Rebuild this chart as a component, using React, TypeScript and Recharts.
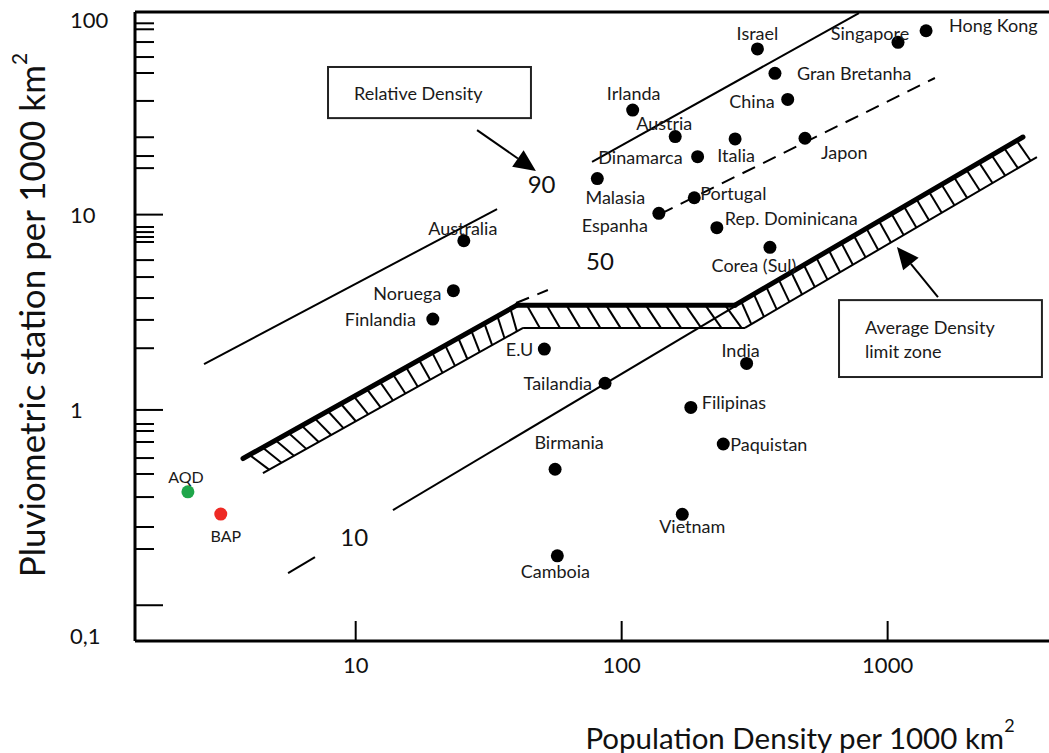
import React from "react";
import {
  ScatterChart,
  Scatter,
  XAxis,
  YAxis,
  ReferenceLine,
  ReferenceArea,
  ReferenceDot,
} from "recharts";

const FONT = "Lato, 'Open Sans', Arial, sans-serif";
const W = 1049;
const H = 753;
const PLOT_LEFT = 135;
const PLOT_BOTTOM = 641;

const X_DOMAIN = [1.48, 4043];
const Y_DOMAIN = [0.0656, 109];

// axis ticks
const xTicks = [10, 100, 1000];
const yMajorTicks = [100, 10, 1, 0.1];
const yMajorLabels = ["100", "10", "1", "0,1"];
const yMinorTicks = [
  95.4, 88.9, 76.5, 64.1, 53.1, 38.2, 24.9, 19.95, 17.3, 8.64, 8.14, 7.68, 7.24,
  5.85, 4.79, 3.74, 2.89, 2.07, 0.847, 0.78, 0.685, 0.567, 0.47, 0.358, 0.2515,
  0.194,
];

// countries: population density vs pluviometric stations (per 1000 km2)
const countries = [
  "Israel", "Singapore", "Hong Kong", "Gran Bretanha", "China", "Irlanda",
  "Austria", "Italia", "Japon", "Dinamarca", "Malasia", "Portugal", "Espanha",
  "Rep. Dominicana", "Corea (Sul)", "Australia", "Noruega", "Finlandia", "E.U",
  "India", "Tailandia", "Filipinas", "Paquistan", "Birmania", "Vietnam", "Camboia",
];
const popDensity = [
  324, 1094, 1395, 377, 421, 110, 159, 267, 489, 193, 81, 187.5, 138, 228, 361,
  25.5, 23.3, 19.5, 51.2, 295, 86.6, 182, 241, 56.2, 169, 57.3,
];
const stations = [
  70.5, 76.2, 87.4, 52.9, 38.9, 34.3, 25.1, 24.4, 24.6, 19.8, 15.3, 12.2, 10.15,
  8.57, 6.8, 7.35, 4.08, 2.92, 2.05, 1.73, 1.37, 1.03, 0.669, 0.497, 0.292, 0.179,
];

// study basins
const aqdPoint = { name: "AQD", x: 2.34, y: 0.381 };
const bapPoint = { name: "BAP", x: 3.11, y: 0.293 };

// average density limit zone (upper thick edge / lower thin edge)
const bandTopX = [3.77, 40.4, 266.7, 3227];
const bandTopY = [0.564, 3.44, 3.44, 24.96];
const bandLowX = [4.48, 42.6, 290.8, 3642];
const bandLowY = [0.475, 2.63, 2.63, 19.72];

// relative density lines
const solidLines = [
  [2.69, 1.718, 34.0, 10.68],
  [77.4, 18.6, 780, 107.7],
  [13.81, 0.3072, 271.4, 3.444],
  [5.57, 0.1462, 7.03, 0.1765],
];
const dashedLines = [
  [139.4, 10.07, 1506, 50.05],
  [40.07, 3.527, 52.8, 4.11],
];
const densityLabels = [
  { text: "90", x: 50, y: 14.5 },
  { text: "50", x: 82.9, y: 5.85 },
  { text: "10", x: 9.88, y: 0.224 },
];

const labelPlace: Record<string, [number, number, "start" | "middle" | "end"]> = {
  Israel: [0, -16, "middle"],
  Singapore: [-28, -9, "middle"],
  "Hong Kong": [23, -6, "start"],
  "Gran Bretanha": [22, 0, "start"],
  China: [-13, 2, "end"],
  Irlanda: [1, -17, "middle"],
  Austria: [-11, -14, "middle"],
  Italia: [1, 16, "middle"],
  Japon: [16, 14, "start"],
  Dinamarca: [-15, 0, "end"],
  Malasia: [18, 18, "middle"],
  Portugal: [6, -5, "start"],
  Espanha: [-11, 12, "end"],
  "Rep. Dominicana": [8, -10, "start"],
  "Corea (Sul)": [-16, 18, "middle"],
  Australia: [-1, -13, "middle"],
  Noruega: [-12, 2, "end"],
  Finlandia: [-17, 0, "end"],
  "E.U": [-11, 0, "end"],
  India: [-6, -13, "middle"],
  Tailandia: [-13, 0, "end"],
  Filipinas: [11, -5, "start"],
  Paquistan: [7, 0, "start"],
  Birmania: [14, -27, "middle"],
  Vietnam: [10, 12, "middle"],
  Camboia: [-2, 15, "middle"],
  AQD: [-2, -15, "middle"],
  BAP: [5, 21, "middle"],
};

const countryData = countries.map((name, i) => ({
  name,
  x: popDensity[i],
  y: stations[i],
}));

const lg = Math.log10;
const lerpLog = (a: number, b: number, t: number) =>
  10 ** (lg(a) + (lg(b) - lg(a)) * t);

const hatch: number[][] = [];
[21, 11, 23].forEach((n, seg) => {
  const shift = seg === 1 ? 0.03 : 0;
  for (let k = 0; k < n; k++) {
    const t = (k + 0.5) / n;
    const t2 = Math.min(1, t + shift);
    hatch.push([
      lerpLog(bandTopX[seg], bandTopX[seg + 1], t),
      lerpLog(bandTopY[seg], bandTopY[seg + 1], t),
      lerpLog(bandLowX[seg], bandLowX[seg + 1], t2),
      lerpLog(bandLowY[seg], bandLowY[seg + 1], t2),
    ]);
  }
});

const makeDot = (color: string, fontSize: number) => (p: any) => {
  const { cx, cy, payload } = p;
  const [dx, dy, anchor] = labelPlace[payload.name] ?? [0, -14, "middle"];
  return (
    <g>
      <circle cx={cx} cy={cy} r={6.5} fill={color} />
      <text
        x={cx + dx}
        y={cy + dy}
        textAnchor={anchor}
        dominantBaseline="central"
        fontSize={fontSize}
        fontFamily={FONT}
        fill="#1a1a1a"
      >
        {payload.name}
      </text>
    </g>
  );
};

const YTick = (p: any) => {
  const v = p.payload.value;
  const i = yMajorTicks.indexOf(v);
  const len = i >= 0 ? (v === 100 ? 0 : 28) : 19;
  return (
    <g>
      {len > 0 && (
        <line x1={PLOT_LEFT} x2={PLOT_LEFT + len} y1={p.y} y2={p.y} stroke="#000" strokeWidth={2} />
      )}
      {i >= 0 && (
        <text
          x={70}
          y={p.y + (v === 0.1 ? 30 : 0)}
          dominantBaseline="central"
          fontSize={22}
          fontFamily={FONT}
          fill="#111"
        >
          {yMajorLabels[i]}
        </text>
      )}
    </g>
  );
};

const XTick = (p: any) => (
  <g>
    <line x1={p.x} x2={p.x} y1={PLOT_BOTTOM} y2={PLOT_BOTTOM - 20} stroke="#000" strokeWidth={2} />
    <text
      x={p.x}
      y={664}
      textAnchor="middle"
      dominantBaseline="central"
      fontSize={22}
      fontFamily={FONT}
      fill="#111"
    >
      {p.payload.value}
    </text>
  </g>
);

const XTitle = () => (
  <text x={800} y={737} textAnchor="middle" dominantBaseline="central" fontSize={29.5} fontFamily={FONT} fill="#111">
    Population Density per 1000 km
    <tspan dy={-12} fontSize={18}>2</tspan>
  </text>
);

const YTitle = () => (
  <text
    x={31}
    y={315}
    transform="rotate(-90, 31, 315)"
    textAnchor="middle"
    dominantBaseline="central"
    fontSize={35}
    fontFamily={FONT}
    fill="#111"
  >
    Pluviometric station per 1000 km
    <tspan dy={-13} fontSize={21}>2</tspan>
  </text>
);

const Arrow = (p: any) => {
  const x1 = +p.x1, y1 = +p.y1, x2 = +p.x2, y2 = +p.y2;
  const a = Math.atan2(y2 - y1, x2 - x1);
  const L = 22, Wd = 10;
  const bx = x2 - L * Math.cos(a), by = y2 - L * Math.sin(a);
  const nx = -Math.sin(a), ny = Math.cos(a);
  return (
    <g>
      <line x1={x1} y1={y1} x2={bx} y2={by} stroke="#000" strokeWidth={2} />
      <polygon
        points={`${x2},${y2} ${bx + nx * Wd},${by + ny * Wd} ${bx - nx * Wd},${by - ny * Wd}`}
        fill="#000"
      />
    </g>
  );
};

const Box = (lines: string[]) => (p: any) => (
  <g>
    <rect x={p.x} y={p.y} width={p.width} height={p.height} fill="#fff" stroke="#222" strokeWidth={2} />
    {lines.map((t, i) => (
      <text
        key={t}
        x={p.x + 26}
        y={p.y + (lines.length === 1 ? p.height / 2 : 27 + i * 24)}
        dominantBaseline="central"
        fontSize={18}
        fontFamily={FONT}
        fill="#1a1a1a"
      >
        {t}
      </text>
    ))}
  </g>
);

export default function App() {
  return (
    <div style={{ position: "absolute", left: 0, top: 0, width: W, height: H, background: "#fff" }}>
      <ScatterChart width={W} height={H} margin={{ top: 12, right: 0, bottom: 0, left: 0 }}>
        <XAxis
          dataKey="x"
          type="number"
          scale="log"
          domain={X_DOMAIN}
          allowDataOverflow
          ticks={xTicks}
          interval={0}
          tick={XTick}
          tickLine={false}
          axisLine={{ stroke: "#000", strokeWidth: 3 }}
          height={112}
          label={XTitle}
        />
        <YAxis
          dataKey="y"
          type="number"
          scale="log"
          domain={Y_DOMAIN}
          allowDataOverflow
          ticks={[...yMajorTicks, ...yMinorTicks]}
          interval={0}
          tick={YTick}
          tickLine={false}
          axisLine={{ stroke: "#000", strokeWidth: 3 }}
          width={135}
          label={YTitle}
        />
        <ReferenceLine y={Y_DOMAIN[1]} stroke="#000" strokeWidth={3} ifOverflow="visible" />

        {/* limit zone */}
        {[0, 1, 2].map((s) => (
          <ReferenceLine
            key={`t${s}`}
            segment={[
              { x: bandTopX[s], y: bandTopY[s] },
              { x: bandTopX[s + 1], y: bandTopY[s + 1] },
            ]}
            stroke="#000"
            strokeWidth={5}
            strokeLinecap="round"
          />
        ))}
        {[0, 1, 2].map((s) => (
          <ReferenceLine
            key={`b${s}`}
            segment={[
              { x: bandLowX[s], y: bandLowY[s] },
              { x: bandLowX[s + 1], y: bandLowY[s + 1] },
            ]}
            stroke="#000"
            strokeWidth={2}
          />
        ))}
        {hatch.map((h, i) => (
          <ReferenceLine
            key={`h${i}`}
            segment={[
              { x: h[0], y: h[1] },
              { x: h[2], y: h[3] },
            ]}
            stroke="#000"
            strokeWidth={2}
          />
        ))}

        {/* relative density lines */}
        {solidLines.map((l, i) => (
          <ReferenceLine
            key={`s${i}`}
            segment={[
              { x: l[0], y: l[1] },
              { x: l[2], y: l[3] },
            ]}
            stroke="#000"
            strokeWidth={2}
          />
        ))}
        {dashedLines.map((l, i) => (
          <ReferenceLine
            key={`d${i}`}
            segment={[
              { x: l[0], y: l[1] },
              { x: l[2], y: l[3] },
            ]}
            stroke="#000"
            strokeWidth={2}
            strokeDasharray="14 9"
          />
        ))}
        {densityLabels.map((d) => (
          <ReferenceDot
            key={d.text}
            x={d.x}
            y={d.y}
            r={0}
            shape={(p: any) => (
              <text
                x={p.cx}
                y={p.cy}
                textAnchor="middle"
                dominantBaseline="central"
                fontSize={24}
                fontFamily={FONT}
                fill="#111"
              >
                {d.text}
              </text>
            )}
          />
        ))}

        {/* annotation boxes and arrows */}
        <ReferenceArea x1={7.87} x2={45.6} y1={31.2} y2={57.0} shape={Box(["Relative Density"])} />
        <ReferenceArea
          x1={656.5}
          x2={3803}
          y1={1.474}
          y2={3.65}
          shape={Box(["Average Density", "limit zone"])}
        />
        <ReferenceLine
          segment={[
            { x: 28.6, y: 27.1 },
            { x: 47.6, y: 16.7 },
          ]}
          shape={Arrow}
        />
        <ReferenceLine
          segment={[
            { x: 1546, y: 3.785 },
            { x: 1084, y: 6.83 },
          ]}
          shape={Arrow}
        />

        <Scatter name="Countries" data={countryData} shape={makeDot("#000", 18)} isAnimationActive={false} />
        <Scatter name="AQD" data={[aqdPoint]} shape={makeDot("#1fa64a", 16)} isAnimationActive={false} />
        <Scatter name="BAP" data={[bapPoint]} shape={makeDot("#ee2a24", 16)} isAnimationActive={false} />
      </ScatterChart>
    </div>
  );
}
